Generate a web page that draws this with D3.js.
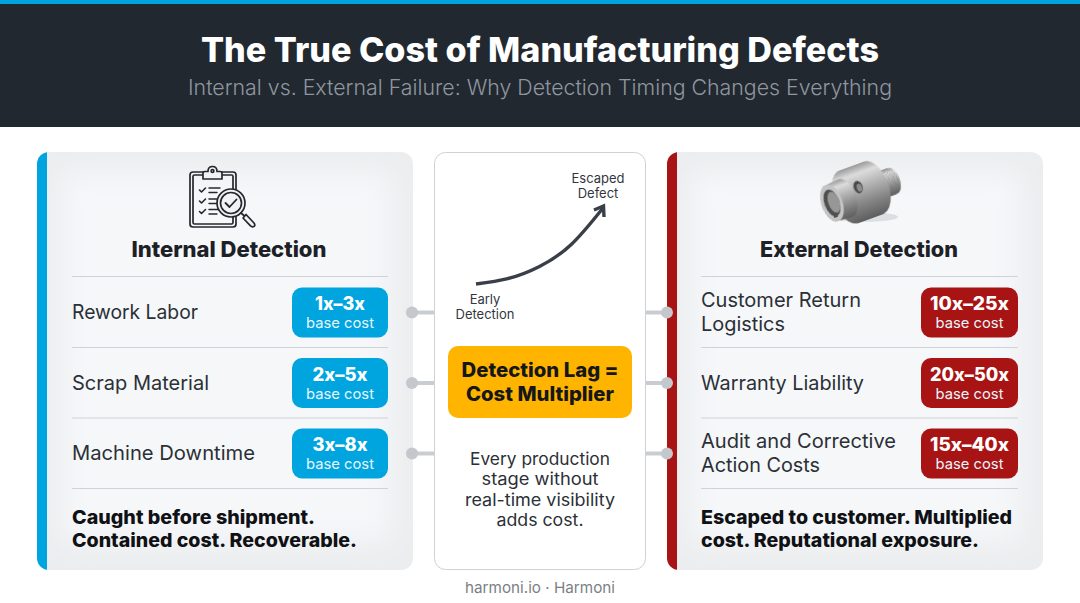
<!DOCTYPE html>
<html>
<head>
<meta charset="utf-8">
<script src="https://cdn.jsdelivr.net/npm/d3@7"></script>
<style>
  html, body { margin: 0; padding: 0; background: #fff; }
  svg { display: block; }
  text { font-family: Inter, "Noto Sans", sans-serif; }
</style>
</head>
<body>
<div id="chart"></div>
<script>
const titleText = 'The True Cost of Manufacturing Defects';
const subtitleText = 'Internal vs. External Failure: Why Detection Timing Changes Everything';
const footerText = 'harmoni.io \u00b7 Harmoni';

const internalLabels = [['Rework Labor'], ['Scrap Material'], ['Machine Downtime']];
const internalRanges = ['1x\u20133x', '2x\u20135x', '3x\u20138x'];
const internalNote = ['Caught before shipment.', 'Contained cost. Recoverable.'];

const externalLabels = [['Customer Return', 'Logistics'], ['Warranty Liability'], ['Audit and Corrective', 'Action Costs']];
const externalRanges = ['10x\u201325x', '20x\u201350x', '15x\u201340x'];
const externalNote = ['Escaped to customer. Multiplied', 'cost. Reputational exposure.'];

const curveStage = [0, 0.25, 0.5, 0.75, 1];
const curveCost = [0, 0.07, 0.23, 0.52, 1];
const lagLines = ['Detection Lag =', 'Cost Multiplier'];
const centerLines = ['Every production', 'stage without', 'real-time visibility', 'adds cost.'];

const W = 1080, H = 603;
const BLUE = '#00a5e0', RED = '#a81414', DARK = '#22282f', INK = '#2b3036';

// widths the strings take in the reference, the installed fonts run a bit different
const fitWidth = {
  [titleText]: 678, [subtitleText]: 704,
  'Internal Detection': 195, 'External Detection': 198,
  'Rework Labor': 126, 'Scrap Material': 137, 'Machine Downtime': 183,
  'Customer Return': 160, 'Logistics': 84, 'Warranty Liability': 163,
  'Audit and Corrective': 195, 'Action Costs': 119,
  'Caught before shipment.': 243, 'Contained cost. Recoverable.': 285,
  'Escaped to customer. Multiplied': 311, 'cost. Reputational exposure.': 278,
  'Detection Lag =': 157, 'Cost Multiplier': 148,
  'Every production': 140, 'stage without': 117, 'real-time visibility': 150, 'adds cost.': 87,
  'base cost': 68, [footerText]: 150,
  '1x\u20133x': 50, '2x\u20135x': 55, '3x\u20138x': 55,
  '10x\u201325x': 79, '20x\u201350x': 79, '15x\u201340x': 79
};

const svg = d3.select('#chart').append('svg').attr('width', W).attr('height', H);
const defs = svg.append('defs');

const blur = defs.append('filter').attr('id', 'soft').attr('x', '-20%').attr('y', '-20%').attr('width', '140%').attr('height', '140%');
blur.append('feGaussianBlur').attr('stdDeviation', 14);
const partBlur = defs.append('filter').attr('id', 'partSoft').attr('x', '-10%').attr('y', '-10%').attr('width', '120%').attr('height', '120%');
partBlur.append('feGaussianBlur').attr('stdDeviation', 0.6);

// row positions shared by both side panels
const rowY = d3.scalePoint().domain([0, 1, 2]).range([312.5, 453.5]);

// header
svg.append('rect').attr('width', W).attr('height', 127).attr('fill', DARK);
svg.append('rect').attr('width', W).attr('height', 4).attr('fill', BLUE);

function put(g, str, x, y, size, weight, fill, anchor) {
  const t = g.append('text')
    .attr('x', x).attr('y', y)
    .attr('font-size', size).attr('font-weight', weight)
    .attr('fill', fill).attr('text-anchor', anchor || 'start')
    .text(str);
  if (fitWidth[str]) t.attr('textLength', fitWidth[str]).attr('lengthAdjust', 'spacingAndGlyphs');
  return t;
}

put(svg, titleText, 540, 62, 34, 800, '#fff', 'middle');
put(svg, subtitleText, 540, 95, 21.5, 300, '#8f96a0', 'middle');

function panel(cfg) {
  const g = svg.append('g');
  const clip = 'clip-' + cfg.id;
  defs.append('clipPath').attr('id', clip)
    .append('rect').attr('x', cfg.x).attr('y', 152).attr('width', 376).attr('height', 418).attr('rx', 12);
  const inner = g.append('g').attr('clip-path', `url(#${clip})`);
  inner.append('rect').attr('x', cfg.x).attr('y', 152).attr('width', 376).attr('height', 418).attr('fill', '#ebedef');
  inner.append('rect').attr('x', cfg.x + 24).attr('y', 172).attr('width', 330).attr('height', 370)
    .attr('fill', '#f5f7f9').attr('filter', 'url(#soft)');
  inner.append('rect').attr('x', cfg.x).attr('y', 152).attr('width', 10).attr('height', 418).attr('fill', cfg.color);

  put(g, cfg.title, cfg.titleX, 257, 21.5, 800, '#1d2126', 'middle');

  const x0 = cfg.x + 35 - cfg.shift, x1 = cfg.x + 351;
  const rules = [276.5, 347.5, 418, 488.5];
  g.selectAll('line.rule').data(rules).enter().append('line')
    .attr('x1', x0).attr('x2', x1).attr('y1', d => d).attr('y2', d => d)
    .attr('stroke', '#cfd2d6').attr('stroke-width', 1);

  cfg.labels.forEach((lines, i) => {
    const cy = rowY(i);
    lines.forEach((s, j) => {
      put(g, s, x0, cy + 6.5 + (j - (lines.length - 1) / 2) * 23.5, 20, 400, INK, 'start');
    });
    const bx = x1 - cfg.badgeW;
    g.append('rect').attr('x', bx).attr('y', cy - 25).attr('width', cfg.badgeW).attr('height', 50)
      .attr('rx', 10).attr('fill', cfg.color);
    put(g, cfg.ranges[i], bx + cfg.badgeW / 2, cy - 2.5, 18.5, 800, '#fff', 'middle');
    put(g, 'base cost', bx + cfg.badgeW / 2, cy + 15.5, 14.5, 400, '#e8f6fc', 'middle');
  });

  cfg.note.forEach((s, j) => put(g, s, x0, 524 + j * 23, 19, 800, '#0f1114', 'start'));
  return g;
}

panel({ id: 'int', x: 37, color: BLUE, title: 'Internal Detection', titleX: 229, shift: 0, badgeW: 96,
  labels: internalLabels, ranges: internalRanges, note: internalNote });
panel({ id: 'ext', x: 667, color: RED, title: 'External Detection', titleX: 859, shift: 1, badgeW: 97,
  labels: externalLabels, ranges: externalRanges, note: externalNote });

// center card
const center = svg.append('g');
center.append('rect').attr('x', 434.5).attr('y', 152.5).attr('width', 211).attr('height', 417)
  .attr('rx', 11).attr('fill', '#fff').attr('stroke', '#cfd1d4');

// connectors
[[412, 434], [667, 646]].forEach(([dot, end]) => {
  svg.selectAll(null).data(rowY.domain()).enter().append('line')
    .attr('x1', dot).attr('x2', end).attr('y1', d => rowY(d)).attr('y2', d => rowY(d))
    .attr('stroke', '#c9ccd0').attr('stroke-width', 4);
  svg.selectAll(null).data(rowY.domain()).enter().append('circle')
    .attr('cx', dot).attr('cy', d => rowY(d)).attr('r', 6).attr('fill', '#c4c7cb');
});

// cost curve
const xCurve = d3.scaleLinear().domain([0, 1]).range([476, 603]);
const yCurve = d3.scaleLinear().domain([0, 1]).range([284, 208]);
const curvePts = curveStage.map((s, i) => [xCurve(s), yCurve(curveCost[i])]);
center.append('path')
  .attr('d', d3.line().x(d => d[0]).y(d => d[1]).curve(d3.curveNatural)(curvePts))
  .attr('fill', 'none').attr('stroke', '#3a3e49').attr('stroke-width', 3.4);
center.append('path')
  .attr('d', `M${xCurve(1) - 9},${yCurve(1) + 2} L${xCurve(1) + 0.5},${yCurve(1) - 2} L${xCurve(1) + 1},${yCurve(1) + 9}`)
  .attr('fill', 'none').attr('stroke', '#3a3e49').attr('stroke-width', 3.4);

put(center, 'Escaped', 598, 183, 13, 400, '#33373d', 'middle');
put(center, 'Defect', 598, 198, 13, 400, '#33373d', 'middle');
put(center, 'Early', 485, 304, 13, 400, '#33373d', 'middle');
put(center, 'Detection', 485, 319, 13, 400, '#33373d', 'middle');

center.append('rect').attr('x', 448).attr('y', 346).attr('width', 184).attr('height', 72).attr('rx', 10).attr('fill', '#ffb400');
lagLines.forEach((s, i) => put(center, s, 540, 377 + i * 24, 20, 800, '#15171a', 'middle'));
centerLines.forEach((s, i) => put(center, s, 540, 465 + i * 20.4, 17, 400, INK, 'middle'));

put(svg, footerText, 540, 593, 15, 400, '#7b7f85', 'middle');

// clipboard icon
const icon = svg.append('g').attr('fill', 'none').attr('stroke', '#24282e').attr('stroke-width', 1.7).attr('stroke-linejoin', 'round').attr('stroke-linecap', 'round');
icon.append('rect').attr('x', 190).attr('y', 172).attr('width', 46).attr('height', 55).attr('rx', 3);
icon.append('rect').attr('x', 193).attr('y', 175).attr('width', 40).attr('height', 49).attr('rx', 1.5);
icon.append('path').attr('d', 'M203,179 V173 Q203,171.5 205,171.5 H208 Q208,166.5 212.5,166.5 Q217,166.5 217,171.5 H220 Q222,171.5 222,173 V179 Z').attr('fill', '#f0f2f4');
icon.append('circle').attr('cx', 212.5).attr('cy', 171).attr('r', 1.4);
[190, 201, 211.5].forEach(y => {
  icon.append('path').attr('d', `M199.5,${y} l2,2 l4,-4`).attr('stroke-width', 1.6);
  icon.append('path').attr('d', `M209,${y - 2} h11 M209,${y + 2.5} h8`).attr('stroke-width', 1.4);
});
icon.append('circle').attr('cx', 231).attr('cy', 203).attr('r', 14).attr('fill', '#f0f2f4');
icon.append('circle').attr('cx', 231).attr('cy', 203).attr('r', 10.5);
icon.append('path').attr('d', 'M225.5,203 l4,4 l7,-7.5').attr('stroke-width', 1.8);
icon.append('path').attr('d', 'M241,213 L244.5,216');
icon.append('path').attr('d', 'M243,218 L246,214.5 L254,223 Q256,226 253,226.8 Q251.5,227 250.5,225.8 Z').attr('fill', '#f0f2f4');

// machined part
const metal = defs.append('linearGradient').attr('id', 'metal').attr('x1', 0).attr('y1', 0).attr('x2', 0).attr('y2', 1);
[['0%', '#9a9a9a'], ['16%', '#dcdcdc'], ['40%', '#b4b4b4'], ['70%', '#868585'], ['100%', '#5f5e5e']]
  .forEach(([o, c]) => metal.append('stop').attr('offset', o).attr('stop-color', c));

svg.append('ellipse').attr('cx', 864).attr('cy', 217).attr('rx', 34).attr('ry', 5).attr('fill', '#dcdfe1').attr('filter', 'url(#partSoft)');
const part = svg.append('g').attr('transform', 'translate(832,203) rotate(-20)').attr('filter', 'url(#partSoft)');
// cone from radius r0 at x0 to radius r1 at x1, near face left
function cyl(x0, x1, r0, r1, endFill) {
  const e0 = 0.55 * r0, e1 = 0.55 * r1;
  part.append('path')
    .attr('d', `M${x0},${-r0} L${x1},${-r1} A${e1},${r1} 0 0 1 ${x1},${r1} L${x0},${r0} A${e0},${r0} 0 0 1 ${x0},${-r0} Z`)
    .attr('fill', 'url(#metal)');
  if (endFill) part.append('ellipse').attr('cx', x0).attr('cy', 0).attr('rx', e0).attr('ry', r0).attr('fill', endFill);
}
// back to front so the front face stays on top
[62, 59.5, 57, 54.5, 52].forEach(x => {
  cyl(x, x + 2.5, 13.5, 13.5);
  part.append('path').attr('d', `M${x},-13.5 A7,13.5 0 0 1 ${x},13.5`).attr('fill', 'none').attr('stroke', '#666565').attr('stroke-width', 0.8);
});
cyl(44, 52, 16, 14);
cyl(18, 44, 28, 28);
cyl(12, 22, 20, 28);
cyl(0, 14, 19, 20, '#c4c4c4');
part.append('ellipse').attr('rx', 7.5).attr('ry', 14).attr('fill', '#504f4f');
part.append('ellipse').attr('cx', 2).attr('rx', 5.5).attr('ry', 11).attr('fill', '#989797');
part.append('rect').attr('x', -3).attr('y', 10).attr('width', 4).attr('height', 5).attr('fill', '#504f4f');
part.append('ellipse').attr('cx', 30).attr('cy', -6).attr('rx', 4.5).attr('ry', 6.5).attr('fill', '#4c4b4b');
part.append('ellipse').attr('cx', 31).attr('cy', -5).attr('rx', 2.5).attr('ry', 4).attr('fill', '#8f8e8e');
</script>
</body>
</html>
